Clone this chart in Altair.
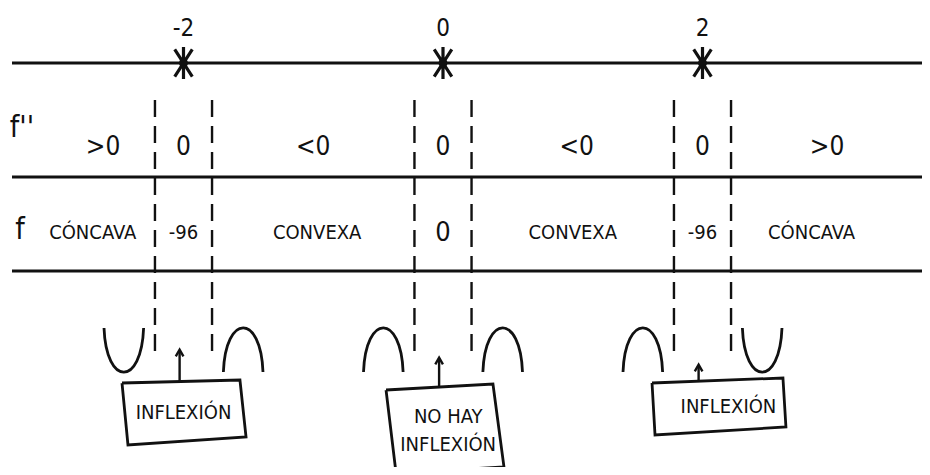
import altair as alt
import pandas as pd

# ---------------- data (sign chart of f'') ----------------
critical_x = [-2, 0, 2]
critical_labels = ["-2", "0", "2"]
cell_x_f2 = [-2.62, -2, -1, 0, 1.03, 2, 2.96]
f2_signs = [">0", "0", "<0", "0", "<0", "0", ">0"]
cell_x_f = [-2.70, -2, -0.97, 0, 1.0, 2, 2.84]
f_values = ["CÓNCAVA", "-96", "CONVEXA", "0", "CONVEXA", "-96", "CÓNCAVA"]
left_shape = ["cup", "cap", "cap"]     # concavity just left of each point
right_shape = ["cap", "cap", "cup"]    # concavity just right of each point
note_lines = [["INFLEXIÓN"], ["NO HAY", "INFLEXIÓN"], ["INFLEXIÓN"]]

# ---------------- layout constants ----------------
PX_PER_UNIT = 129.75
X_CENTER_PX = 443
W, H = 914, 459
x_min = (8 - X_CENTER_PX) / PX_PER_UNIT
x_max = (8 + W - X_CENTER_PX) / PX_PER_UNIT

FONT = "'Liberation Sans Narrow', 'DejaVu Sans Condensed', 'Noto Sans', sans-serif"
INK = "#111111"

xs = alt.Scale(domain=[x_min, x_max], nice=False, zero=False)
ys = alt.Scale(domain=[0, H], nice=False, zero=False, reverse=True)
X = lambda f="x": alt.X(f"{f}:Q", scale=xs, axis=None)
Y = lambda f="y": alt.Y(f"{f}:Q", scale=ys, axis=None)

line_ys = [55, 169, 263]
x_left = (12 - X_CENTER_PX) / PX_PER_UNIT
layers = []

# horizontal lines
hl = pd.DataFrame({"x": [x_left] * 3, "x2": [x_max] * 3, "y": line_ys})
layers.append(alt.Chart(hl).mark_rule(color=INK, strokeWidth=2.8).encode(
    x=X(), x2=alt.X2("x2:Q"), y=Y()))

# dashed boundaries around each critical point
HALF = 0.22
dv = pd.DataFrame({
    "x": [c + s * HALF for c in critical_x for s in (-1, 1)],
    "y": [92] * 6, "y2": [350] * 6})
layers.append(alt.Chart(dv).mark_rule(color=INK, strokeWidth=2.4, strokeDash=[17, 9]).encode(
    x=X(), y=Y(), y2=alt.Y2("y2:Q")))

# critical point stars and labels
ASTER = "M 0 -1 L 0 1 M -0.55 -0.85 L 0.55 0.85 M -0.55 0.85 L 0.55 -0.85"
st = pd.DataFrame({"x": critical_x, "y": [55] * 3, "t": critical_labels, "ly": [21] * 3})
layers.append(alt.Chart(st).mark_point(shape=ASTER, size=1024, filled=False, color=INK,
                                        strokeWidth=3.2, opacity=1).encode(x=X(), y=Y()))
layers.append(alt.Chart(st).mark_point(shape="circle", size=80, filled=True, color=INK,
                                        opacity=1).encode(x=X(), y=Y()))
layers.append(alt.Chart(st).mark_text(font=FONT, fontSize=24, color=INK).encode(
    x=X(), y=Y("ly"), text="t:N"))

# row labels
rl = pd.DataFrame({"x": [(22 - X_CENTER_PX) / PX_PER_UNIT, (20 - X_CENTER_PX) / PX_PER_UNIT],
                   "y": [120, 222], "t": ["f''", "f"]})
layers.append(alt.Chart(rl).mark_text(font=FONT, fontSize=30, color=INK).encode(
    x=X(), y=Y(), text="t:N"))

# f'' signs row
r1 = pd.DataFrame({"x": cell_x_f2, "y": [139] * 7, "t": f2_signs})
layers.append(alt.Chart(r1).mark_text(font=FONT, fontSize=26, color=INK).encode(
    x=X(), y=Y(), text="t:N"))

# f row
r2 = pd.DataFrame({"x": cell_x_f, "y": [225] * 7, "t": f_values})
layers.append(alt.Chart(r2).mark_text(font=FONT, color=INK).encode(
    x=X(), y=Y(), text="t:N",
    size=alt.condition("datum.t == '0'", alt.value(27), alt.value(20))))

# concavity glyphs
CAP = "M -0.9 1 C -0.8 -1.67 0.8 -1.67 0.9 1"
CUP = "M -0.9 -1 C -0.8 1.67 0.8 1.67 0.9 -1"
SIDE = 0.46
gl = pd.DataFrame({
    "x": [c - SIDE for c in critical_x] + [c + SIDE for c in critical_x],
    "y": [342] * 6,
    "kind": left_shape + right_shape})
layers.append(alt.Chart(gl).mark_point(filled=False, size=1936, color=INK, strokeWidth=2.8,
                                        opacity=1).encode(
    x=X(), y=Y(),
    shape=alt.Shape("kind:N", scale=alt.Scale(domain=["cup", "cap"], range=[CUP, CAP]),
                    legend=None)))

# arrows
arrow_top = [342, 350, 357]
arrow_bot = [373, 379, 372]
ar = pd.DataFrame({"x": [c - 0.03 for c in critical_x], "y": arrow_top, "y2": arrow_bot})
layers.append(alt.Chart(ar).mark_rule(color=INK, strokeWidth=2.4).encode(
    x=X(), y=Y(), y2=alt.Y2("y2:Q")))
CHEV = "M -0.7 0.6 L 0 -0.6 L 0.7 0.6"
ar["hy"] = [v + 3 for v in arrow_top]
layers.append(alt.Chart(ar).mark_point(shape=CHEV, size=120, filled=False, color=INK,
                                        strokeWidth=2.4, opacity=1).encode(x=X(), y=Y("hy")))

# note boxes (slightly skewed, hand-drawn look)
box_dx = [[-0.474, 0.435, 0.482, -0.428],
          [-0.439, 0.385, 0.470, -0.362],
          [-0.389, 0.620, 0.643, -0.366]]
box_y = [[375, 372, 429, 437],
         [382, 376, 459, 465],
         [375, 370, 419, 427]]
rows = []
for b, c in enumerate(critical_x):
    for i in range(5):
        k = i % 4
        rows.append({"box": b, "o": i, "x": c + box_dx[b][k], "y": box_y[b][k]})
bx = pd.DataFrame(rows)
layers.append(alt.Chart(bx).mark_line(color=INK, strokeWidth=2.8).encode(
    x=X(), y=Y(), detail="box:N", order="o:Q"))

# note texts
note_cx = [0.0, 0.04, 0.20]
note_cy = [405, 409, 399]
nt_rows = []
for b, c in enumerate(critical_x):
    for j, line in enumerate(note_lines[b]):
        nt_rows.append({"x": c + note_cx[b], "y": note_cy[b] + 28 * j, "t": line})
nt = pd.DataFrame(nt_rows)
layers.append(alt.Chart(nt).mark_text(font=FONT, fontSize=20, color=INK).encode(
    x=X(), y=Y(), text="t:N"))

chart = alt.layer(*layers).properties(
    width=W, height=H, padding=0,
    autosize=alt.AutoSizeParams(type="none"),
    background="white",
).configure_view(stroke=None)

chart.save("out.html", embed_options={"renderer": "svg", "actions": False})
